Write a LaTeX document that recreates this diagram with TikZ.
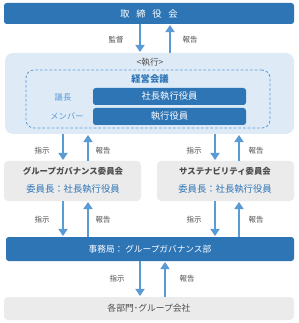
\documentclass[tikz,border=0pt]{standalone}
\usepackage{fontspec}
\setmainfont{Noto Sans CJK JP}
\usetikzlibrary{arrows.meta, positioning, calc}
\definecolor{colorMain}{HTML}{2E75B6}
\definecolor{colorArrow}{HTML}{5B9BD5}
\definecolor{fondoExec}{HTML}{DEEBF7}
\definecolor{fondoGris}{HTML}{EBEBEB}
\definecolor{textoGris}{HTML}{4D4D4D}

\begin{document}
\begin{tikzpicture}[x=0.75pt, y=-0.75pt, font=\fontsize{7}{8}\selectfont,
        bar/.style={fill=colorMain, text=white, rounded corners=2pt, inner sep=0pt},
        greybox/.style={fill=fondoGris, text=textoGris, rounded corners=3pt, inner sep=0pt},
        lbl/.style={text=textoGris, font=\fontsize{5.6}{6}\selectfont, inner sep=0pt},
        flow/.style={-{Triangle[width=6.8pt, length=5.4pt]}, line width=2.2pt, colorArrow, shorten >=0.5pt}]
    \useasboundingbox (0,0) rectangle (298,323);
    % top level
    \node[bar, minimum width=217.5pt, minimum height=15.75pt] (board) at (149,13.5)
        {取\hspace{5pt}締\hspace{5pt}役\hspace{5pt}会};
    \node[fill=fondoExec, rounded corners=6pt, minimum width=216.75pt, minimum height=60.75pt] (exec) at (149.5,93.5) {};
    \node[text=textoGris, font=\fontsize{6.5}{7}\selectfont] (execlbl) at (150,62) {<執行>};
    \node[draw=colorArrow, dash pattern=on 2pt off 1.5pt, line width=0.6pt, rounded corners=6pt,
        minimum width=183pt, minimum height=43.5pt] (meeting) at (148,99) {};
    \node[text=colorMain, font=\fontsize{7}{8}\selectfont\bfseries] (meetlbl) at (150,79) {経営会議};
    \node[text=colorArrow, font=\fontsize{6.2}{7}\selectfont] (chair) at (63,97) {議長};
    \node[text=colorArrow, font=\fontsize{6.2}{7}\selectfont] (members) at (67,116) {メンバー};
    \node[bar, minimum width=114.75pt, minimum height=12.75pt] (ceo) at (169.5,96.5) {社長執行役員};
    \node[bar, minimum width=114.75pt, minimum height=12.75pt] (officers) at (169.5,116.5) {執行役員};
    % committees
    \node[greybox, minimum width=102.75pt, minimum height=30pt] (gov) at (72.5,181) {};
    \node[greybox, minimum width=102.75pt, minimum height=30pt] (sus) at (225.5,181) {};
    \node[text=textoGris, font=\fontsize{6.3}{7}\selectfont\bfseries] at (73,171) {グループガバナンス委員会};
    \node[text=textoGris, font=\fontsize{6.3}{7}\selectfont\bfseries] at (225,171) {サステナビリティ委員会};
    \node[text=colorMain] at (73,189) {委員長：社長執行役員};
    \node[text=colorMain] at (225,189) {委員長：社長執行役員};
    % secretariat and group
    \node[bar, minimum width=216pt, minimum height=18pt, font=\fontsize{6.5}{7}\selectfont] (office) at (150,249)
        {事務局： グループガバナンス部};
    \node[greybox, minimum width=217.5pt, minimum height=17.25pt, font=\fontsize{6.6}{7}\selectfont] (units) at (149,308.5)
        {各部門･グループ会社};
    % columns of the arrows
    \coordinate (t1) at (140,0);  \coordinate (t2) at (170,0);
    \coordinate (l1) at (63,0);   \coordinate (l2) at (88,0);
    \coordinate (r1) at (215,0);  \coordinate (r2) at (239,0);
    \coordinate (b1) at (140,0);  \coordinate (b2) at (165,0);
    \draw[flow] (board.south -| t1) -- (exec.north -| t1);
    \draw[flow] (exec.north -| t2) -- (board.south -| t2);
    \draw[flow] (exec.south -| l1) -- (gov.north -| l1);
    \draw[flow] (gov.north -| l2) -- (exec.south -| l2);
    \draw[flow] (exec.south -| r1) -- (sus.north -| r1);
    \draw[flow] (sus.north -| r2) -- (exec.south -| r2);
    \draw[flow] (gov.south -| l1) -- (office.north -| l1);
    \draw[flow] (office.north -| l2) -- (gov.south -| l2);
    \draw[flow] (sus.south -| r1) -- (office.north -| r1);
    \draw[flow] (office.north -| r2) -- (sus.south -| r2);
    \draw[flow] (office.south -| b1) -- (units.north -| b1);
    \draw[flow] (units.north -| b2) -- (office.south -| b2);
    % labels
    \node[lbl] at (116,40) {監督};  \node[lbl] at (190,40) {報告};
    \foreach \y in {151,220} {
        \node[lbl] at (42,\y) {指示};  \node[lbl] at (103,\y) {報告};
        \node[lbl] at (194,\y) {指示}; \node[lbl] at (256,\y) {報告};
    }
    \node[lbl] at (117,279) {指示}; \node[lbl] at (187,279) {報告};
\end{tikzpicture}
\end{document}
